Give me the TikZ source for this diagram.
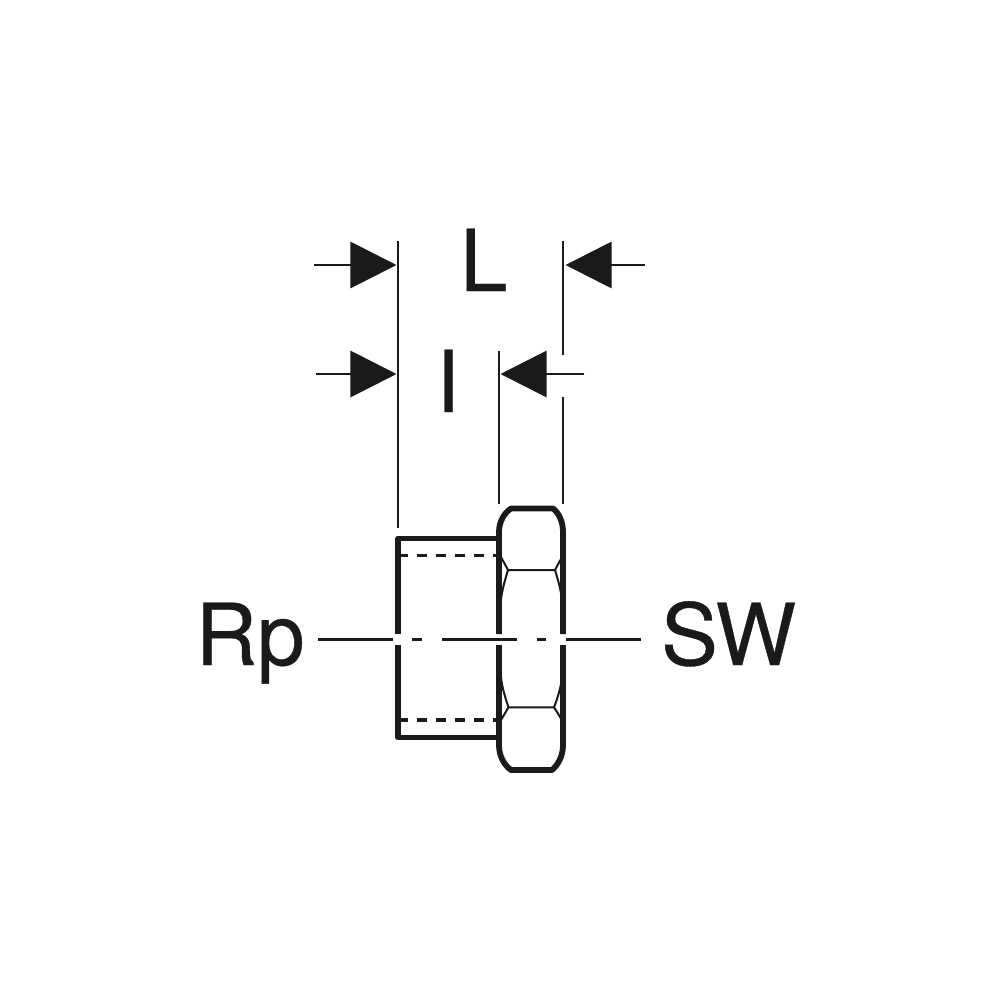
\documentclass[tikz,border=0pt]{standalone}
\usepackage{fontspec}
\setmainfont[FakeBold=0.4]{TeX Gyre Heros}
\usetikzlibrary{arrows.meta}
\definecolor{ink}{HTML}{1A1A1A}
\tikzset{
  lbl/.style={anchor=base west,inner sep=0pt,outer sep=0pt,text=ink,font=\fontsize{24.3pt}{24.3pt}\selectfont},
  heavy/.style={draw=ink,line width=0.058cm,line join=round},
  thin/.style={draw=ink,line width=0.02cm},
  ext/.style={draw=ink,line width=0.027cm},
  centre/.style={draw=ink,line width=0.029cm},
  hidden/.style={draw=ink,line width=0.034cm,dash pattern=on 0.1cm off 0.09cm,dash phase=0.033cm},
  dim/.style={draw=ink,line width=0.029cm,-{Triangle[length=0.46cm,width=0.46cm]}}
}
\begin{document}
\begin{tikzpicture}[x=0.01cm,y=-0.01cm]
\fill[white] (0,0) rectangle (1000,1000);
\useasboundingbox (0,0) rectangle (1000,1000);
% labels
\node[lbl] (L) at (460,291) {L};
\node[lbl] (l) at (436,412) {I};
\node[lbl] (Rp) at (195.5,665) {Rp};
\node[lbl] (SW) at (661,665) {SW};
% extension lines
\draw[ext] (398,241) -- (398,528);
\draw[ext] (563,241) -- (563,355);
\draw[ext] (563,397) -- (563,504);
\draw[ext] (499,351) -- (499,504);
% dimension arrows
\coordinate (a1) at (314,265); \coordinate (a1t) at (396.5,265);
\coordinate (a2) at (645,265); \coordinate (a2t) at (565.5,265);
\coordinate (a3) at (316,374); \coordinate (a3t) at (396.5,374);
\coordinate (a4) at (584,374); \coordinate (a4t) at (500.5,374);
\draw[dim] (a1) -- (a1t);
\draw[dim] (a2) -- (a2t);
\draw[dim] (a3) -- (a3t);
\draw[dim] (a4) -- (a4t);
% socket body
\draw[heavy] (398.3,634) -- (398.3,538.5) -- (499,538.5);
\draw[heavy] (398.3,645) -- (398.3,737.5) -- (499,737.5);
% hidden thread lines
\draw[hidden] (401,555.5) -- (498,555.5);
\draw[hidden] (401,720) -- (498,720);
% nut outline
\draw[heavy] (499,634) -- (499,532) .. controls (499,522) and (504,513) .. (511,508.5)
  -- (553,508.5) .. controls (559,513) and (563,522) .. (563,532) -- (563,634);
\draw[heavy] (499,645) -- (499,745) .. controls (499,756) and (504,765) .. (511,770)
  -- (552,770) .. controls (558,765) and (563,756) .. (563,745) -- (563,645);
% nut facets
\draw[thin] (501,557) -- (508,570) -- (555,570) -- (562,557);
\draw[thin] (501,600) .. controls (502,590) and (505,580) .. (508,570);
\draw[thin] (562,600) .. controls (561,590) and (558,580) .. (555,570);
\draw[thin] (501,720) -- (508.5,707.3) -- (554,707.3) -- (562,720);
\draw[thin] (501,677) .. controls (502,687) and (505,697) .. (508.5,707.3);
\draw[thin] (562,677) .. controls (561,687) and (558,697) .. (554,707.3);
% centre line
\draw[centre] (318,639.7) -- (393,639.7);
\draw[centre] (412,639.7) -- (422,639.7);
\draw[centre] (442,639.7) -- (517.3,639.7);
\draw[centre] (537,639.7) -- (546,639.7);
\draw[centre] (566,639.7) -- (641,639.7);
\end{tikzpicture}
\end{document}
